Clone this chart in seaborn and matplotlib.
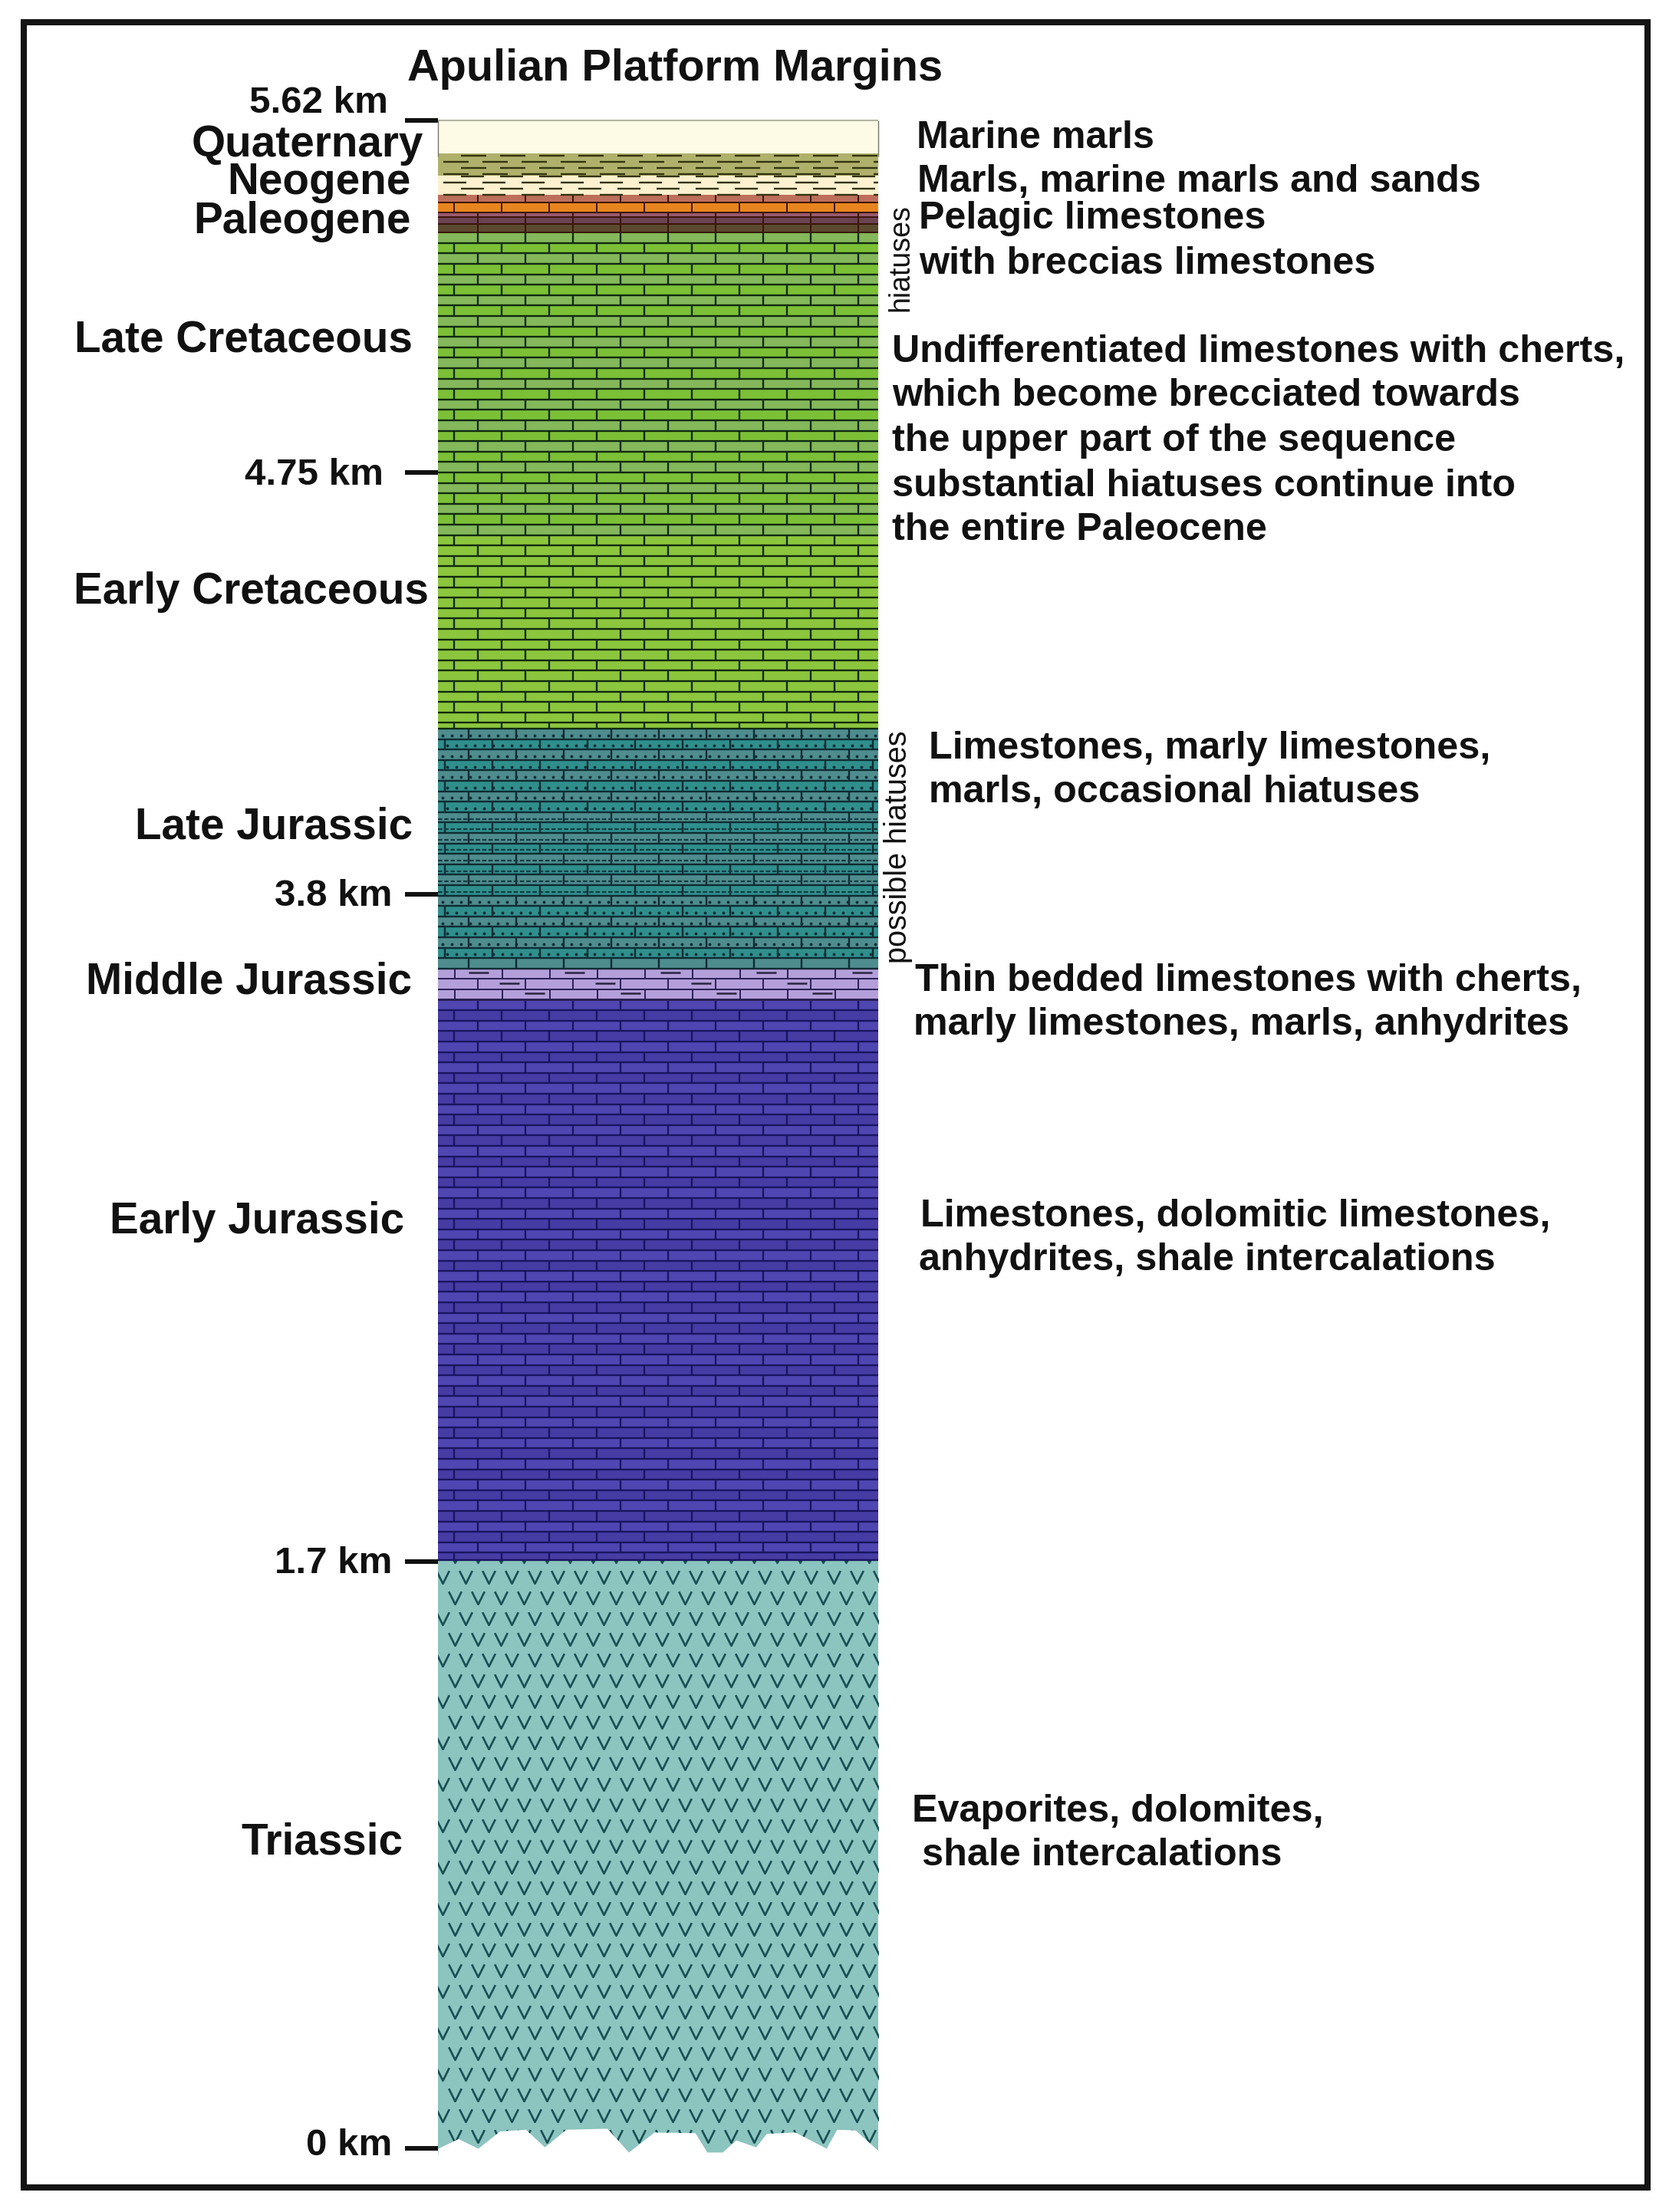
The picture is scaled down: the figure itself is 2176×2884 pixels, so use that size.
import numpy as np
import pandas as pd
import matplotlib.pyplot as plt
import seaborn as sns
from matplotlib.patches import Rectangle
from matplotlib.path import Path

# column layers, bottom to top (km, schematic depth scale like the original)
layer_names = ['Triassic', 'Early Jurassic', 'Middle Jurassic', 'Late Jurassic', 'Cretaceous',
               'Pal brown', 'Pal purple', 'Pal mauve', 'Pal orange', 'Pal pink',
               'Neo pale', 'Neo olive', 'Quaternary']
layer_tops = [1.705, 3.468, 3.567, 4.173, 5.343, 5.364, 5.381, 5.392, 5.417, 5.436, 5.483, 5.538, 5.62]
layer_colors = ['#8cc4bf', '#5046b2', '#b39fd9', '#2f8f8c', '#7cc036', '#5c4a30', '#6b4252', '#98596e',
                '#e8851f', '#bd6f5b', '#fdf1cf', '#afb16b', '#fdfae6']
column_base = -0.02

# depth ticks and the height in the picture they sit at, the axis is not linear
tick_km = [0, 1.7, 3.8, 4.75, 5.62]
tick_h = [0, 765, 1635, 2185, 2644]

# broken bottom edge of the column
edge_x = [0, .046, .091, .140, .199, .242, .291, .384, .433, .491, .584, .611, .646, .677, .722, .746, .811, .882, .906, .948, 1.0]
edge_km = [0, .028, 0, .05, .055, .004, .055, .058, -.011, .047, .045, -.011, -.011, .024, .004, .043, .047, 0, .055, .053, -.007]

period_labels = ['Quaternary', 'Neogene', 'Paleogene', 'Late Cretaceous', 'Early Cretaceous',
                 'Late Jurassic', 'Middle Jurassic', 'Early Jurassic', 'Triassic']
period_x = [136, 161, 137, 53, 52, 96, 61, 78, 171]
period_y = [101, 127.5, 155, 240, 418, 585, 695, 865, 1305]

notes = ['Marine marls', 'Marls, marine marls and sands', 'Pelagic limestones', 'with breccias limestones',
         'Undifferentiated limestones with cherts,', 'which become brecciated towards',
         'the upper part of the sequence', 'substantial hiatuses continue into', 'the entire Paleocene',
         'Limestones, marly limestones,', 'marls, occasional hiatuses',
         'Thin bedded limestones with cherts,', 'marly limestones, marls, anhydrites',
         'Limestones, dolomitic limestones,', 'anhydrites, shale intercalations',
         'Evaporites, dolomites,', 'shale intercalations']
notes_x = [650, 651, 652, 652, 633, 633, 633, 633, 633, 659, 659, 649, 648, 653, 652, 647, 654]
notes_y = [96, 127, 153, 185, 248, 279, 311, 343, 374, 529, 560, 694, 725, 861, 892, 1283, 1314]

km_labels = ['5.62 km', '4.75 km', '3.8 km', '1.7 km', '0 km']
km_label_right = [275, 272, 278, 278, 278]
km_label_y = [71, 335, 634, 1107, 1520]

W, H = 2176, 2884
S = W / 1184  # text positions were read on a 1184 wide copy
COL_W = 574
PITCH = 13.6

sns.set_style('white')
plt.rcParams['font.family'] = ['Liberation Sans', 'DejaVu Sans']


def to_h(km):
    return np.interp(km, [-1] + tick_km + [7], [-450] + tick_h + [3200])


def to_km(h):
    return np.interp(h, [-450] + tick_h + [3200], [-1] + tick_km + [7])


def txt(x, y, s, size, **kw):
    kw.setdefault('fontweight', 'bold')
    kw.setdefault('va', 'center')
    fig.text(x * S / W, 1 - (y + 2) * S / H, s, fontsize=size, color='#111111', **kw)


fig = plt.figure(figsize=(W / 100, H / 100), dpi=100)
ax = fig.add_axes([571 / W, 1 - 2810 / H, COL_W / W, 2653 / H])

bars = {}
bottom = column_base
for name, top, col in zip(layer_names, layer_tops, layer_colors):
    before = len(ax.patches)
    sns.barplot(x=['column'], y=[top - bottom], bottom=bottom, color=col, saturation=1,
                width=1, gap=0, linewidth=0, ax=ax)
    bars[name] = ax.patches[before]
    bottom = top

ax.set_yscale('function', functions=(to_h, to_km))
ax.set_xlim(-0.5, 0.5)
ax.set_ylim(column_base, 5.62)


def layer_span(name):
    i = layer_names.index(name)
    low = layer_tops[i - 1] if i else column_base
    return to_h(low), to_h(layer_tops[i])


def bricks(name, off_a, off_b, line='#101828', lw=1.7, tint=None, tint_on=0, fade=None):
    low, high = layer_span(name)
    clip = bars[name]
    n = int(np.ceil((high - low) / PITCH))
    for r in range(n):
        h1 = high - r * PITCH
        h2 = max(h1 - PITCH, low)
        if fade is not None and r > 0.6 * n:
            s = ax.axhspan(to_km(h2), to_km(h1), color=fade, lw=0, zorder=1.5)
            s.set_clip_path(clip)
        elif tint is not None and r % 2 == tint_on:
            s = ax.axhspan(to_km(h2), to_km(h1), color=tint, lw=0, zorder=1.5)
            s.set_clip_path(clip)
        ax.hlines(to_km(h2), -0.5, 0.5, color=line, lw=lw, zorder=2)
        off = off_a if r % 2 == 0 else off_b
        xs = (np.arange(off, COL_W, 62) / COL_W) - 0.5
        v = ax.vlines(xs, to_km(h2), to_km(h1), color=line, lw=lw, zorder=2)
        v.set_clip_path(clip)


def dash_row(h, off, step, length, lw=1.7, col='#33330f'):
    x0 = np.arange(off, COL_W, step)
    ax.hlines(np.full(len(x0), to_km(h)), x0 / COL_W - 0.5, (x0 + length) / COL_W - 0.5,
              color=col, lw=lw, zorder=2)


def dashes(name, off_a, off_b, step, length, rows=7.8, first=3):
    low, high = layer_span(name)
    h = high - first
    r = 0
    while h > low:
        dash_row(h, off_a if r % 2 == 0 else off_b, step, length)
        h -= rows
        r += 1


# Triassic V pattern
low, high = layer_span('Triassic')
v_mark = Path([(-1, 1), (0, -1), (1, 1)], [Path.MOVETO, Path.LINETO, Path.LINETO])
r = 0
h = high + 5
while h > low:
    off = 22 if r % 2 == 0 else 6
    xs = np.arange(off, COL_W + 20, 30) / COL_W - 0.5
    ln, = ax.plot(xs, to_km(np.full(len(xs), h)), ls='', marker=v_mark, ms=12, mfc='none',
                  mec='#174f54', mew=1.9, zorder=2)
    ln.set_clip_path(bars['Triassic'])
    h -= 27
    r += 1

# limestones
bricks('Cretaceous', 52, 21, line='#0f2a10', tint='#84b85a', tint_on=0, fade='#8cc63d')
bricks('Early Jurassic', 52, 21, tint='#463ca4', tint_on=1, line='#1a1560')
bricks('Late Jurassic', 40, 9, tint='#4e8c8e', tint_on=0, line='#0f2b33')
bricks('Middle Jurassic', 22, 52, line='#2b1f55', lw=1.4)
for name in ['Pal brown', 'Pal purple', 'Pal mauve', 'Pal orange', 'Pal pink']:
    low, high = layer_span(name)
    off = 21 if name == 'Pal orange' else 52
    xs = np.arange(off, COL_W, 62) / COL_W - 0.5
    ax.vlines(xs, to_km(low), to_km(high), color='#3a1508', lw=1.4, zorder=2)
    ax.hlines(to_km(low), -0.5, 0.5, color='#3a1508', lw=1.4, zorder=2)

# dots and smudges in the teal limestones
low, high = layer_span('Late Jurassic')
for r in range(int((high - low) / PITCH)):
    hr = high - (r + 0.5) * PITCH - 2
    off = 6 if r % 2 == 0 else 12
    if 8 <= r <= 15:
        ax.hlines(to_km(hr), -0.5, 0.5, color='#123c44', lw=1.6, ls=(0, (2.5, 1.2)), zorder=2)
    else:
        xs = np.arange(off, COL_W, 12) / COL_W - 0.5
        ax.plot(xs, to_km(np.full(len(xs), hr)), ls='', marker='o', ms=1.8, color='#0f2f36', zorder=2)

# lilac dashes
low, high = layer_span('Middle Jurassic')
for r, off in enumerate([40, 80, 113]):
    dash_row(high - (r + 0.4) * PITCH, off, 125, 26, lw=1.8, col='#2b2440')

dashes('Neo olive', 30, 7, 51, 33)
dashes('Neo pale', 30, 7, 51, 30, first=1)

# broken base of the column
ax.fill_between(np.array(edge_x) - 0.5, edge_km, column_base, color='white', lw=0, zorder=3)

ax.hlines(5.62, -0.5, 0.5, color='#b5b5a5', lw=1.5, zorder=2, clip_on=False)
ax.vlines([-0.5, 0.5], to_km(tick_h[-1] - 47), 5.62, color='#77776a', lw=1, zorder=2, clip_on=False)

ax.set_xticks([])
ax.set_xlabel('')
ax.set_ylabel('')
ax.set_yticks(tick_km)
ax.minorticks_off()
ax.tick_params(axis='y', left=True, length=31, width=4.3, color='#111111', labelleft=False)
sns.despine(ax=ax, left=True, bottom=True)

# texts
txt(289, 47, 'Apulian Platform Margins', 41.5)
for s, x, y in zip(period_labels, period_x, period_y):
    txt(x, y, s, 40.8)
for s, x, y in zip(notes, notes_x, notes_y):
    txt(x, y, s, 36.2)
for s, x, y in zip(km_labels, km_label_right, km_label_y):
    txt(x, y, s, 35.5, ha='right')
txt(639, 181, 'hiatuses', 27, rotation=90, ha='center', fontweight='medium')
txt(637, 599, 'possible hiatuses', 28.5, rotation=90, ha='center', fontweight='medium')

fig.add_artist(Rectangle((31 / W, 1 - 2852 / H), (2148 - 31) / W, (2852 - 29) / H, transform=fig.transFigure,
                         fill=False, ec='#141414', lw=5.8))

fig.savefig('out.png', dpi=100)
plt.close(fig)
